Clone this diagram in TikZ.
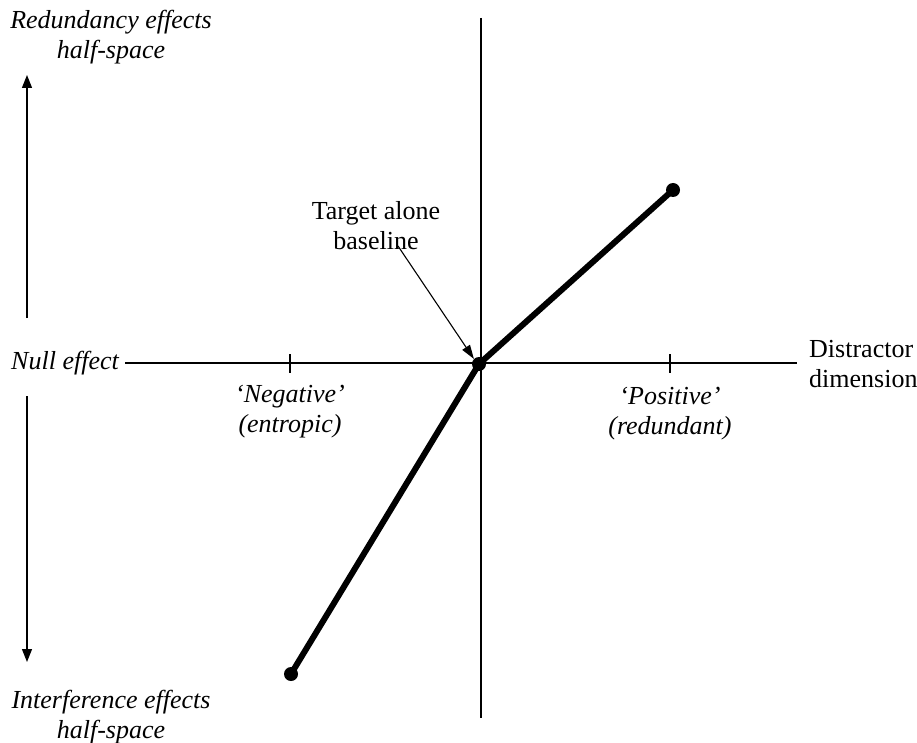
\documentclass[tikz,border=0pt]{standalone}
\usepackage{fontspec}
\setmainfont{Liberation Serif}
\usetikzlibrary{arrows.meta}
\begin{document}
\begin{tikzpicture}[x=1pt,y=-1pt,
  lbl/.style={font=\fontsize{26}{30}\selectfont, align=center, inner sep=0pt},
  ilbl/.style={lbl, font=\fontsize{26}{30}\selectfont\itshape},
  axis/.style={line width=1.3pt},
  dot/.style={circle, fill=black, inner sep=0pt, minimum size=14pt},
  curve/.style={line width=6pt},
  bigarrow/.style={line width=1.3pt, -{Triangle[length=13pt,width=10pt]}},
  pointer/.style={line width=1.1pt, -{Triangle[length=14pt,width=9pt]}}]
\useasboundingbox (0,0) rectangle (917,743);
% axes
\coordinate (vtop) at (481,18);
\coordinate (vbot) at (481,718);
\coordinate (hleft) at (125,363);
\coordinate (hright) at (797,363);
\draw[axis] (vtop) -- (vbot);
\draw[axis] (hleft) -- (hright);
% ticks
\coordinate (t1a) at (290,354); \coordinate (t1b) at (290,373);
\coordinate (t2a) at (670,354); \coordinate (t2b) at (670,373);
\draw[axis] (t1a) -- (t1b);
\draw[axis] (t2a) -- (t2b);
% dots and line
\node[dot] (o) at (479,364) {};
\node[dot] (p) at (673,190) {};
\node[dot] (n) at (291,674) {};
\draw[curve, line join=round] (n.center) -- (o.center) -- (p.center);
% labels
\node[ilbl] (red) at (111,37) {Redundancy effects\\half-space};
\node[ilbl] (int) at (111,717) {Interference effects\\half-space};
\node[ilbl, anchor=east] (null) at (119,363) {Null effect};
\node[ilbl] (neg) at (290,412) {‘Negative’\\(entropic)};
\node[ilbl] (pos) at (670,414) {‘Positive’\\(redundant)};
\node[lbl] (tgt) at (376,226) {Target alone\\baseline};
\node[lbl, align=left, anchor=west] (dis) at (809,364) {Distractor\\dimension};
% left arrows
\coordinate (ua) at (27,318); \coordinate (ub) at (27,75);
\coordinate (da) at (27,396); \coordinate (db) at (27,662);
\draw[bigarrow] (ua) -- (ub);
\draw[bigarrow] (da) -- (db);
% pointer
\coordinate (ps) at (398,246);
\draw[pointer] (ps) -- (o.north west);
\end{tikzpicture}
\end{document}
